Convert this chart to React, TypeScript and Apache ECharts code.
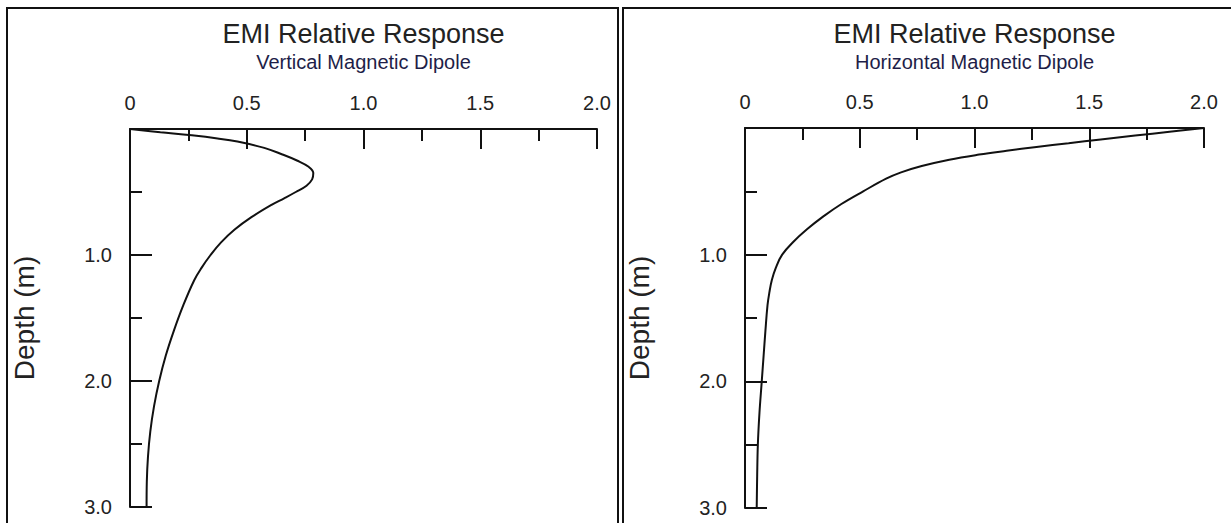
import React, { useEffect, useRef } from "react";
import * as echarts from "echarts";

// Depth grid (m) and relative response for the vertical magnetic dipole
const vmdDepth = [0, 0.025, 0.05, 0.075, 0.1, 0.15, 0.2, 0.25, 0.3, 0.35, 0.4, 0.45, 0.5, 0.55, 0.6, 0.7, 0.8, 0.9, 1.0, 1.1, 1.2, 1.4, 1.6, 1.8, 2.0, 2.2, 2.4, 2.6, 2.8, 3.0];
const vmdResponse = [0, 0.13, 0.265, 0.375, 0.46, 0.575, 0.65, 0.715, 0.765, 0.785, 0.78, 0.756, 0.71, 0.66, 0.608, 0.52, 0.447, 0.39, 0.345, 0.307, 0.275, 0.228, 0.188, 0.153, 0.125, 0.103, 0.087, 0.077, 0.072, 0.071];

// Depth grid (m) and relative response for the horizontal magnetic dipole
const hmdDepth = [0, 0.03, 0.06, 0.09, 0.12, 0.15, 0.18, 0.21, 0.25, 0.3, 0.35, 0.4, 0.5, 0.6, 0.7, 0.8, 0.9, 1.0, 1.1, 1.2, 1.3, 1.4, 1.6, 1.8, 2.0, 2.25, 2.5, 2.75, 3.0];
const hmdResponse = [2.0, 1.85, 1.7, 1.55, 1.41, 1.27, 1.14, 1.02, 0.89, 0.77, 0.68, 0.615, 0.515, 0.42, 0.34, 0.27, 0.21, 0.162, 0.135, 0.117, 0.106, 0.098, 0.089, 0.081, 0.073, 0.063, 0.056, 0.053, 0.051];

const responseTicks = [0, 0.5, 1.0, 1.5, 2.0];
const depthTicks = [0, 1.0, 2.0, 3.0];

const mainTitle = "EMI Relative Response";
const subTitles = ["Vertical Magnetic Dipole", "Horizontal Magnetic Dipole"];
const depthName = "Depth (m)";

const FONT = "'Liberation Sans', Arial, sans-serif";
const INK = "#111";
const TEXT = "#222";

const panels = [
  { frameX: 7, grid: { left: 130, top: 129, width: 467, height: 378 } },
  { frameX: 623, grid: { left: 745, top: 128, width: 459, height: 380 } },
];

function makeXAxis(gridIndex: number) {
  return {
    type: "value",
    gridIndex,
    position: "top",
    min: responseTicks[0],
    max: responseTicks[responseTicks.length - 1],
    interval: 0.5,
    axisLine: { show: true, onZero: false, lineStyle: { color: INK, width: 2 } },
    axisTick: { show: true, inside: true, length: 20, lineStyle: { color: INK, width: 2 } },
    minorTick: { show: true, splitNumber: 2, length: 12, lineStyle: { color: INK, width: 2 } },
    splitLine: { show: false },
    axisLabel: {
      margin: 16,
      fontSize: 20,
      fontFamily: FONT,
      color: TEXT,
      formatter: (v: number) => (v === 0 ? "0" : v.toFixed(1)),
    },
  };
}

function makeYAxis(gridIndex: number) {
  return {
    type: "value",
    gridIndex,
    inverse: true,
    min: depthTicks[0],
    max: depthTicks[depthTicks.length - 1],
    interval: 1,
    name: depthName,
    nameLocation: "middle",
    nameRotate: 90,
    nameGap: 92,
    nameTextStyle: { fontSize: 28, fontFamily: FONT, color: TEXT },
    axisLine: { show: true, onZero: false, lineStyle: { color: INK, width: 2 } },
    axisTick: { show: true, inside: true, length: 22, lineStyle: { color: INK, width: 2 } },
    minorTick: { show: true, splitNumber: 2, length: 12, lineStyle: { color: INK, width: 2 } },
    splitLine: { show: false },
    axisLabel: {
      margin: 18,
      fontSize: 20,
      fontFamily: FONT,
      color: TEXT,
      showMinLabel: false,
      formatter: (v: number) => v.toFixed(1),
    },
  };
}

export default function App() {
  const ref = useRef<HTMLDivElement>(null);

  useEffect(() => {
    if (!ref.current) return;
    const chart = echarts.init(ref.current, null, { renderer: "svg" });

    const graphics: any[] = [];
    panels.forEach((p, i) => {
      const cx = p.grid.left + p.grid.width / 2;
      graphics.push({
        type: "rect",
        shape: { x: p.frameX, y: 8, width: i === 0 ? 611 : 700, height: 600 },
        style: { fill: "none", stroke: INK, lineWidth: 2 },
        silent: true,
      });
      graphics.push({
        type: "text",
        x: cx,
        y: 34,
        style: {
          text: mainTitle,
          fontSize: 27,
          fontFamily: FONT,
          fill: TEXT,
          align: "center",
          verticalAlign: "middle",
          textAlign: "center",
          textVerticalAlign: "middle",
        },
      });
      graphics.push({
        type: "text",
        x: cx,
        y: 62,
        style: {
          text: subTitles[i],
          fontSize: 20,
          fontFamily: FONT,
          fill: "#1e1e48",
          align: "center",
          verticalAlign: "middle",
          textAlign: "center",
          textVerticalAlign: "middle",
        },
      });
    });

    const vmdData = vmdDepth.map((d, i) => [vmdResponse[i], d]);
    const hmdData = hmdDepth.map((d, i) => [hmdResponse[i], d]);

    chart.setOption({
      animation: false,
      backgroundColor: "#fff",
      grid: panels.map((p) => ({ ...p.grid, containLabel: false })),
      xAxis: [makeXAxis(0), makeXAxis(1)],
      yAxis: [makeYAxis(0), makeYAxis(1)],
      series: [
        {
          type: "line",
          xAxisIndex: 0,
          yAxisIndex: 0,
          data: vmdData,
          showSymbol: false,
          smooth: 0.4,
          lineStyle: { color: INK, width: 2 },
        },
        {
          type: "line",
          xAxisIndex: 1,
          yAxisIndex: 1,
          data: hmdData,
          showSymbol: false,
          smooth: 0.4,
          lineStyle: { color: INK, width: 2 },
        },
      ],
      graphic: graphics,
    });

    return () => chart.dispose();
  }, []);

  return (
    <div
      ref={ref}
      style={{ position: "absolute", left: 0, top: 0, width: 1231, height: 523, background: "#fff" }}
    />
  );
}
